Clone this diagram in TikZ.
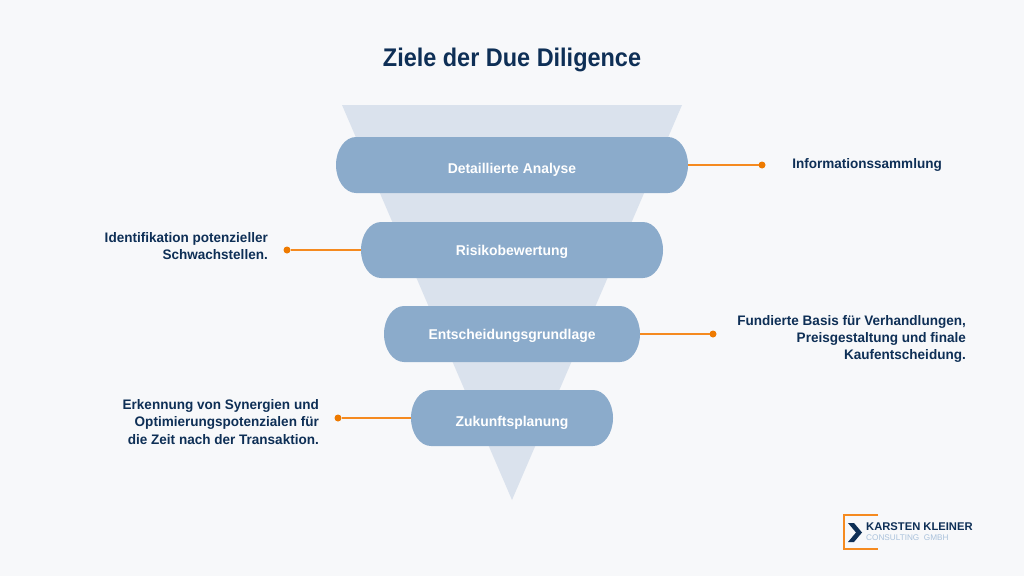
\documentclass[tikz,border=0pt]{standalone}
\usepackage{fontspec}
\setmainfont{Liberation Sans}
\newfontfamily\titlefont[FakeStretch=0.92]{Liberation Sans}
\newfontfamily\bodyfont[FakeStretch=0.98]{Liberation Sans}
\definecolor{bgc}{HTML}{F7F8FA}
\definecolor{funnelc}{HTML}{DAE2ED}
\definecolor{pillc}{HTML}{8BABCB}
\definecolor{navyc}{HTML}{0E2F56}
\definecolor{orangec}{HTML}{F58A1F}
\definecolor{dotc}{HTML}{EE7A00}
\definecolor{lightc}{HTML}{A9C1DB}
\newcommand{\pillfill}[1]{%
  \fill[pillc] ([xshift=20pt]#1.north west) -- ([xshift=-20pt]#1.north east)
    .. controls +(11,0) and +(0,-15.5) .. (#1.east)
    .. controls +(0,15.5) and +(11,0) .. ([xshift=-20pt]#1.south east)
    -- ([xshift=20pt]#1.south west)
    .. controls +(-11,0) and +(0,15.5) .. (#1.west)
    .. controls +(0,-15.5) and +(-11,0) .. ([xshift=20pt]#1.north west) -- cycle;}
\tikzset{
  pill/.style={minimum height=56pt,inner sep=0pt,outer sep=0pt},
  pilltext/.style={text=white,inner sep=0pt,font=\bodyfont\fontsize{14.2}{17}\selectfont\bfseries},
  side/.style={text=navyc,inner sep=0pt,align=right,font=\bodyfont\fontsize{13.8}{17.3}\selectfont\bfseries},
  dotn/.style={circle,fill=dotc,minimum size=7pt,inner sep=0pt,outer sep=0pt},
  conn/.style={draw=orangec,line width=1.3pt}
}
\begin{document}
\begin{tikzpicture}[x=1pt,y=-1pt]
\useasboundingbox (0,0) rectangle (1024,576);
\fill[bgc] (0,0) rectangle (1024,576);
\node[text=navyc,inner sep=0pt,font=\titlefont\fontsize{25.5}{30}\selectfont\bfseries] (title) at (512,60) {Ziele der Due Diligence};
\fill[funnelc] (342,105) -- (682,105) -- (512,500) -- cycle;
\node[pill,minimum width=352pt] (p1) at (512,165) {};
\node[pill,minimum width=302pt] (p2) at (512,250) {};
\node[pill,minimum width=256pt] (p3) at (512,334) {};
\node[pill,minimum width=202pt] (p4) at (512,418) {};
\pillfill{p1}\pillfill{p2}\pillfill{p3}\pillfill{p4}
\node[pilltext] (t1) at (512,170) {Detaillierte Analyse};
\node[pilltext] (t2) at (512,252) {Risikobewertung};
\node[pilltext] (t3) at (512,336) {Entscheidungsgrundlage};
\node[pilltext] (t4) at (512,423) {Zukunftsplanung};
\node[dotn] (d1) at (762,165) {};
\node[dotn] (d2) at (287,250) {};
\node[dotn] (d3) at (713,334) {};
\node[dotn] (d4) at (338,418) {};
\draw[conn] (p1.east) -- (d1);
\draw[conn] (d2) -- (p2.west);
\draw[conn] (p3.east) -- (d3);
\draw[conn] (p4.west) -- (d4);
\node[side,anchor=east] (s1) at (942,165) {Informationssammlung};
\node[side,anchor=east] (s2) at (268,246) {Identifikation potenzieller\\Schwachstellen.};
\node[side,anchor=east] (s3) at (966,339) {Fundierte Basis für Verhandlungen,\\Preisgestaltung und finale\\Kaufentscheidung.};
\node[side,anchor=east] (s4) at (319,422) {Erkennung von Synergien und\\Optimierungspotenzialen für\\die Zeit nach der Transaktion.};
% logo
\draw[orangec,line width=2.4pt] (878,515) -- (844,515) -- (844,549) -- (878,549);
\fill[navyc] (848,523) -- (854,523) -- (862,532.5) -- (854,542) -- (848,542) -- (856,532.5) -- cycle;
\node[inner sep=0pt,anchor=west,text=navyc,font=\fontsize{11.2}{12}\selectfont\bfseries] (k1) at (866,527) {KARSTEN KLEINER};
\node[inner sep=0pt,anchor=west,text=lightc,font=\fontsize{8.2}{10}\selectfont] (k2) at (866,538) {CONSULTING\ \ GMBH};
\end{tikzpicture}
\end{document}
